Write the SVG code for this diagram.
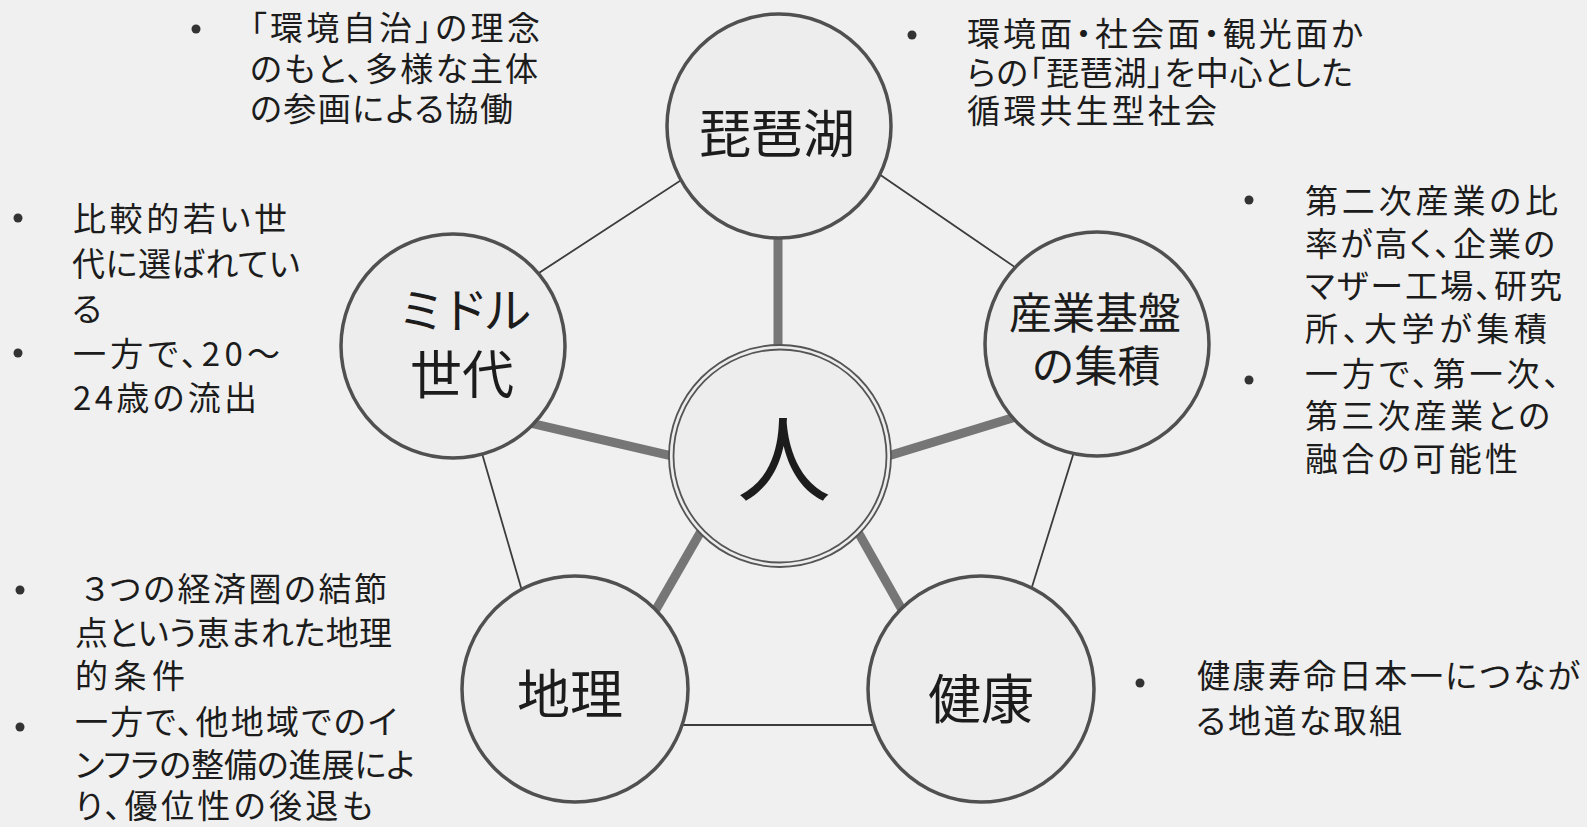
<svg xmlns="http://www.w3.org/2000/svg" width="1587" height="827" viewBox="0 0 1587 827">
<defs>
<style>
.bg{fill:#f0f0f0}
.node{fill:#ededed;stroke:#505050;stroke-width:3.5}
.ring{fill:none;stroke:#555;stroke-width:1.8}
.edge{stroke:#3c3c3c;stroke-width:1.8;fill:none}
.spoke{stroke:#767676;stroke-width:9;stroke-linecap:butt}
.lbl{font-family:"Noto Sans CJK JP","Noto Sans",sans-serif;fill:#1c1c1c;text-anchor:middle}
.txt{font-family:"Noto Sans CJK JP","Noto Sans",sans-serif;font-size:33px;fill:#1c1c1c;font-feature-settings:"palt"}
.dot{fill:#333}
</style>
</defs>
<rect class="bg" x="0" y="0" width="1587" height="827"/>

<g id="connectors">
<polygon class="edge" points="787,111 1111,333 989,725 561,725 447,333"/>
<line class="spoke" x1="778" y1="126" x2="778" y2="456"/>
<line class="spoke" x1="453" y1="405" x2="780" y2="481"/>
<line class="spoke" x1="1097" y1="392" x2="780" y2="489"/>
<line class="spoke" x1="780" y1="394" x2="620" y2="672"/>
<line class="spoke" x1="780" y1="394" x2="931" y2="661"/>
</g>

<g id="node-biwako">
<circle class="node" cx="779" cy="126" r="112"/>
<text class="lbl" x="777" y="153" font-size="52">琵琶湖</text>
</g>
<g id="node-middle">
<circle class="node" cx="453" cy="346" r="112"/>
<text class="lbl" x="462" y="328" font-size="48" letter-spacing="-5">ミドル</text>
<text class="lbl" x="462" y="394" font-size="52">世代</text>
</g>
<g id="node-industry">
<circle class="node" cx="1097" cy="344" r="112"/>
<text class="lbl" x="1095" y="329" font-size="43">産業基盤</text>
<text class="lbl" x="1096" y="382" font-size="43">の集積</text>
</g>
<g id="node-geo">
<circle class="node" cx="575" cy="689" r="113"/>
<text class="lbl" x="570" y="714" font-size="53">地理</text>
</g>
<g id="node-health">
<circle class="node" cx="981" cy="689" r="113"/>
<text class="lbl" x="981" y="719" font-size="53">健康</text>
</g>
<g id="node-people">
<circle cx="780" cy="456" r="111" fill="#ededed" stroke="none"/>
<circle class="ring" cx="780" cy="456" r="111"/>
<circle class="ring" cx="780" cy="456" r="106.5"/>
<text class="lbl" x="784" y="494" font-size="94">人</text>
</g>

<g id="note-biwako-left">
<circle class="dot" cx="196" cy="29" r="4.5"/>
<text class="txt" x="250" y="40" textLength="290" lengthAdjust="spacing">「環境自治」の理念</text>
<text class="txt" x="250" y="81" textLength="288" lengthAdjust="spacing">のもと、多様な主体</text>
<text class="txt" x="250" y="121" textLength="263" lengthAdjust="spacing">の参画による協働</text>
</g>
<g id="note-biwako-right">
<circle class="dot" cx="912" cy="35" r="4.5"/>
<text class="txt" x="967" y="46" textLength="396" lengthAdjust="spacing">環境面・社会面・観光面か</text>
<text class="txt" x="967" y="85" textLength="386" lengthAdjust="spacing">らの「琵琶湖」を中心とした</text>
<text class="txt" x="967" y="123" textLength="250" lengthAdjust="spacing">循環共生型社会</text>
</g>
<g id="note-middle">
<circle class="dot" cx="18" cy="218" r="4.5"/>
<text class="txt" x="73" y="231" textLength="214" lengthAdjust="spacing">比較的若い世</text>
<text class="txt" x="72" y="276" textLength="228" lengthAdjust="spacing">代に選ばれてい</text>
<text class="txt" x="72" y="321">る</text>
<circle class="dot" cx="18" cy="353" r="4.5"/>
<text class="txt" x="73" y="366" textLength="207" lengthAdjust="spacing">一方で、20～</text>
<text class="txt" x="73" y="410" textLength="184" lengthAdjust="spacing">24歳の流出</text>
</g>
<g id="note-industry">
<circle class="dot" cx="1249" cy="200" r="4.5"/>
<text class="txt" x="1305" y="213" textLength="253" lengthAdjust="spacing">第二次産業の比</text>
<text class="txt" x="1305" y="256" textLength="250" lengthAdjust="spacing">率が高く、企業の</text>
<text class="txt" x="1305" y="298" textLength="257" lengthAdjust="spacing">マザー工場、研究</text>
<text class="txt" x="1305" y="341" textLength="242" lengthAdjust="spacing">所、大学が集積</text>
<circle class="dot" cx="1249" cy="380" r="4.5"/>
<text class="txt" x="1305" y="386" textLength="255" lengthAdjust="spacing">一方で、第一次、</text>
<text class="txt" x="1305" y="428" textLength="245" lengthAdjust="spacing">第三次産業との</text>
<text class="txt" x="1305" y="471" textLength="213" lengthAdjust="spacing">融合の可能性</text>
</g>
<g id="note-geo">
<circle class="dot" cx="20" cy="590" r="4.5"/>
<text class="txt" x="82" y="601" textLength="305" lengthAdjust="spacing">３つの経済圏の結節</text>
<text class="txt" x="75" y="645" textLength="317" lengthAdjust="spacing">点という恵まれた地理</text>
<text class="txt" x="75" y="688" textLength="110" lengthAdjust="spacing">的条件</text>
<circle class="dot" cx="20" cy="727" r="4.5"/>
<text class="txt" x="75" y="734" textLength="322" lengthAdjust="spacing">一方で、他地域でのイ</text>
<text class="txt" x="75" y="777" textLength="340" lengthAdjust="spacing">ンフラの整備の進展によ</text>
<text class="txt" x="75" y="818" textLength="298" lengthAdjust="spacing">り、優位性の後退も</text>
</g>
<g id="note-health">
<circle class="dot" cx="1140" cy="683" r="4.5"/>
<text class="txt" x="1197" y="688" textLength="383" lengthAdjust="spacing">健康寿命日本一につなが</text>
<text class="txt" x="1196" y="733" textLength="206" lengthAdjust="spacing">る地道な取組</text>
</g>
</svg>
